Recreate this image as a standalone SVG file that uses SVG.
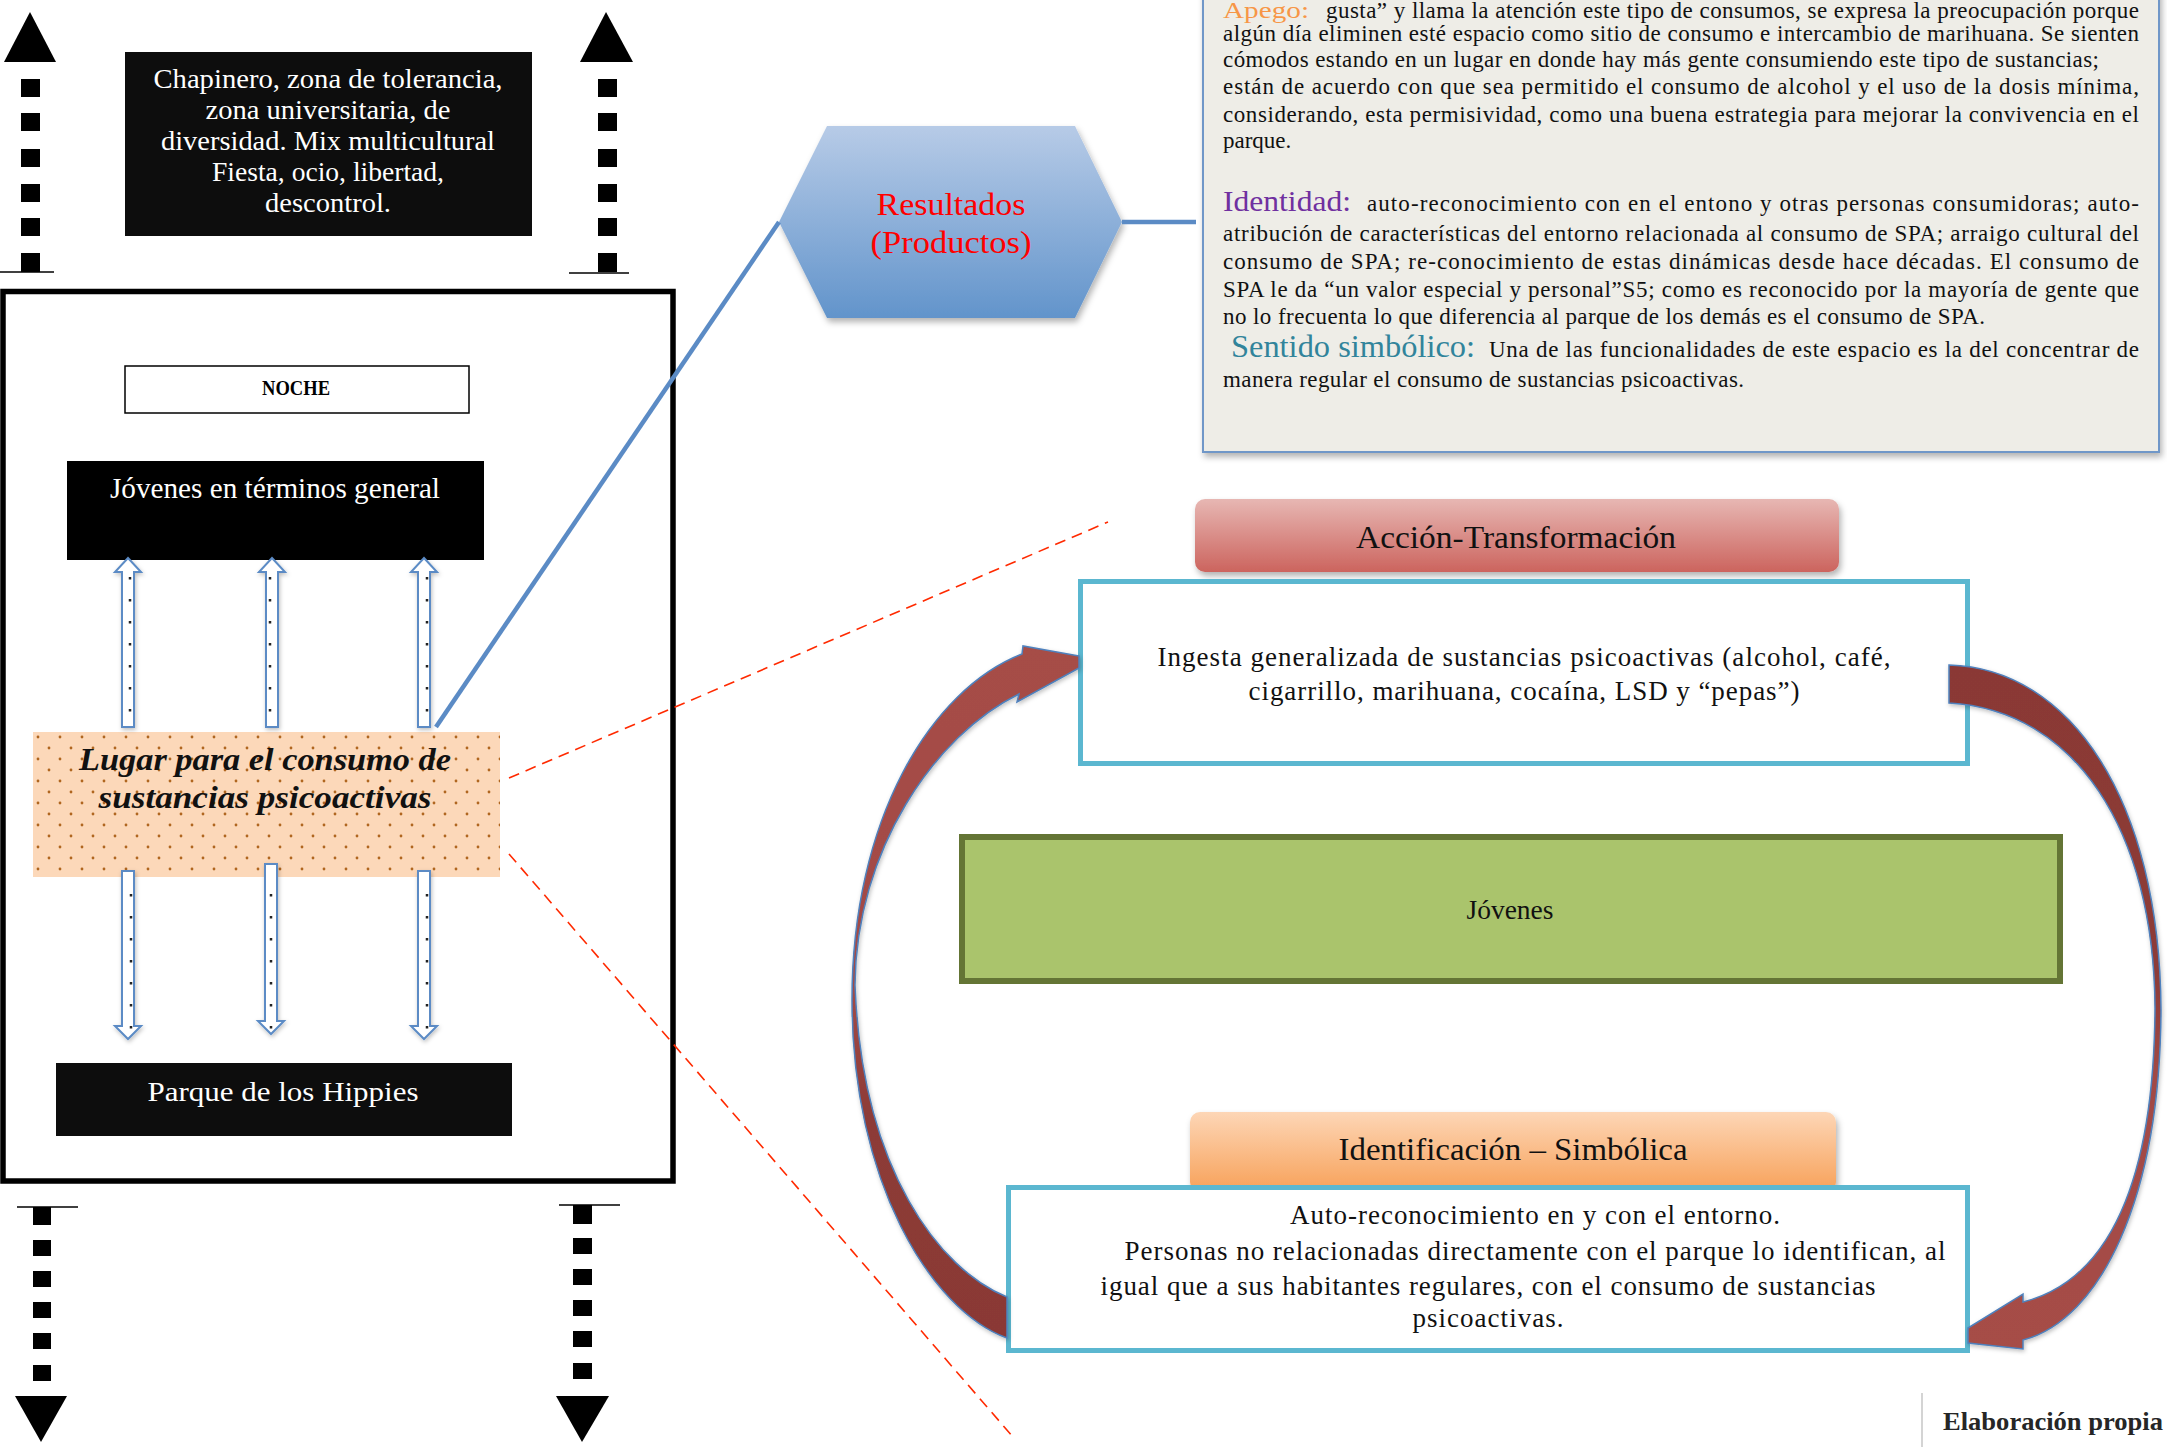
<svg xmlns="http://www.w3.org/2000/svg" width="2167" height="1447" viewBox="0 0 2167 1447">
<defs>
<style>
.serif{font-family:"Liberation Serif","Times New Roman",serif;}
.wt{fill:#ffffff;}
.body{font-family:"Liberation Serif","Times New Roman",serif;font-size:23px;fill:#111111;}
.blk{fill:#0d0d0d;}
.sq{fill:#000000;}
.hollow{fill:#ffffff;stroke:#5b8bc5;stroke-width:2;}
.dots{stroke:#222222;stroke-width:2.5;stroke-dasharray:2.5 19.5;fill:none;}
.cyan{fill:#ffffff;stroke:#5bb7d0;stroke-width:5;}
.red{fill:none;stroke:#ff2a00;stroke-width:1.6;stroke-dasharray:11 7;}
.blue{fill:none;stroke:#5b8bc5;stroke-width:4.5;}
.curve{stroke:#4f81bd;stroke-width:1.5;}
</style>
<linearGradient id="hexG" x1="0" y1="0" x2="0" y2="1"><stop offset="0" stop-color="#b7cbe7"/><stop offset="1" stop-color="#6294cb"/></linearGradient>
<linearGradient id="accG" x1="0" y1="0" x2="0" y2="1"><stop offset="0" stop-color="#e7b7b3"/><stop offset="1" stop-color="#cc645e"/></linearGradient>
<linearGradient id="idG" x1="0" y1="0" x2="0" y2="1"><stop offset="0" stop-color="#fdd6b6"/><stop offset="1" stop-color="#f7a159"/></linearGradient>
<linearGradient id="leftArrG" x1="0" y1="0" x2="0" y2="1"><stop offset="0" stop-color="#a64d47"/><stop offset="0.5" stop-color="#a24945"/><stop offset="0.68" stop-color="#8d3b37"/><stop offset="1" stop-color="#8a3935"/></linearGradient>
<linearGradient id="rightArrG" x1="0" y1="0" x2="0" y2="1"><stop offset="0" stop-color="#8a3935"/><stop offset="0.45" stop-color="#8d3b37"/><stop offset="0.6" stop-color="#a24945"/><stop offset="1" stop-color="#a64d47"/></linearGradient>
<pattern id="dotPat" width="22" height="22" patternUnits="userSpaceOnUse" x="33" y="732"><rect width="22" height="22" fill="#fcd8b9"/><circle cx="5" cy="5" r="1.4" fill="#b0661f"/><circle cx="16" cy="16" r="1.4" fill="#b0661f"/></pattern>
<filter id="sh" x="-10%" y="-10%" width="130%" height="140%"><feDropShadow dx="2" dy="4" stdDeviation="3" flood-color="#000000" flood-opacity="0.3"/></filter>
<filter id="shs" x="-20%" y="-10%" width="140%" height="130%"><feDropShadow dx="1" dy="2" stdDeviation="2" flood-color="#000000" flood-opacity="0.25"/></filter>
</defs>
<rect width="2167" height="1447" fill="#ffffff"/>

<!-- top-right text box -->
<g id="texto-caracteristicas">
<rect x="1203" y="-10" width="956" height="462" fill="#eeede7" stroke="#7097c8" stroke-width="2" filter="url(#sh)"/>
<text class="serif" x="1223" y="18" font-size="24" fill="#f79646" textLength="86" lengthAdjust="spacingAndGlyphs">Apego:</text>
<text class="body" x="1326" y="18" textLength="813" lengthAdjust="spacing">gusta” y llama la atención este tipo de consumos, se expresa la preocupación porque</text>
<text class="body" x="1223" y="41" textLength="916" lengthAdjust="spacing">algún día eliminen esté espacio como sitio de consumo e intercambio de marihuana. Se sienten</text>
<text class="body" x="1223" y="67" textLength="876" lengthAdjust="spacing">cómodos estando en un lugar en donde hay más gente consumiendo este tipo de sustancias;</text>
<text class="body" x="1223" y="94" textLength="916" lengthAdjust="spacing">están de acuerdo con que sea permitido el consumo de alcohol y el uso de la dosis mínima,</text>
<text class="body" x="1223" y="122" textLength="916" lengthAdjust="spacing">considerando, esta permisividad, como una buena estrategia para mejorar la convivencia en el</text>
<text class="body" x="1223" y="148">parque.</text>
<text class="serif" x="1223" y="211" font-size="30" fill="#7030a0" textLength="128" lengthAdjust="spacingAndGlyphs">Identidad:</text>
<text class="body" x="1367" y="211" textLength="772" lengthAdjust="spacing">auto-reconocimiento con en el entono y otras personas consumidoras;  auto-</text>
<text class="body" x="1223" y="241" textLength="916" lengthAdjust="spacing">atribución de características del entorno relacionada al consumo de SPA; arraigo  cultural del</text>
<text class="body" x="1223" y="269" textLength="916" lengthAdjust="spacing">consumo de SPA;  re-conocimiento de estas dinámicas desde hace décadas. El consumo de</text>
<text class="body" x="1223" y="297" textLength="916" lengthAdjust="spacing">SPA le da “un valor especial y personal”S5; como es reconocido por la mayoría de gente que</text>
<text class="body" x="1223" y="324" textLength="762" lengthAdjust="spacing">no lo frecuenta lo que diferencia al parque de los demás es el consumo de SPA.</text>
<text class="serif" x="1231" y="357" font-size="31" fill="#31849b" textLength="244" lengthAdjust="spacingAndGlyphs">Sentido simbólico:</text>
<text class="body" x="1489" y="357" textLength="650" lengthAdjust="spacing">Una de las funcionalidades de este espacio es la del concentrar de</text>
<text class="body" x="1223" y="387" textLength="521" lengthAdjust="spacing">manera regular el consumo de sustancias psicoactivas.</text>
</g>

<!-- left frame -->
<g id="marco">
<rect x="3" y="291.5" width="670" height="889.5" fill="#ffffff" stroke="#000000" stroke-width="5.5"/>
</g>

<g id="chapinero">
<rect x="125" y="52" width="407" height="184" class="blk"/>
<g class="serif wt" font-size="27" text-anchor="middle">
<text x="328" y="88" textLength="349" lengthAdjust="spacingAndGlyphs">Chapinero,  zona de tolerancia,</text>
<text x="328" y="119" textLength="245" lengthAdjust="spacingAndGlyphs">zona universitaria, de</text>
<text x="328" y="150" textLength="334" lengthAdjust="spacingAndGlyphs">diversidad.  Mix multicultural</text>
<text x="328" y="181" textLength="232" lengthAdjust="spacingAndGlyphs">Fiesta, ocio, libertad,</text>
<text x="328" y="212" textLength="126" lengthAdjust="spacingAndGlyphs">descontrol.</text>
</g>
</g>

<g id="noche">
<rect x="125" y="366" width="344" height="47" fill="#ffffff" stroke="#000000" stroke-width="1.5"/>
<text class="serif" x="296" y="395" font-size="20" font-weight="bold" text-anchor="middle" textLength="68" lengthAdjust="spacingAndGlyphs">NOCHE</text>
</g>

<g id="jovenes-general">
<rect x="67" y="461" width="417" height="99" fill="#000000"/>
<text class="serif wt" x="275" y="498" font-size="29" text-anchor="middle" textLength="330" lengthAdjust="spacingAndGlyphs">Jóvenes en términos general</text>
</g>

<g id="lugar">
<rect x="33" y="732" width="467" height="145" fill="url(#dotPat)"/>
<g class="serif" font-size="31" font-weight="bold" font-style="italic" text-anchor="middle" fill="#111111">
<text x="265" y="770" textLength="372" lengthAdjust="spacingAndGlyphs">Lugar para el consumo de</text>
<text x="265" y="808" textLength="333" lengthAdjust="spacingAndGlyphs">sustancias psicoactivas</text>
</g>
</g>

<g id="parque">
<rect x="56" y="1063" width="456" height="73" class="blk"/>
<text class="serif wt" x="283" y="1101" font-size="28" text-anchor="middle" textLength="271" lengthAdjust="spacingAndGlyphs">Parque de los Hippies</text>
</g>

<g id="resultados">
<polygon points="827,126 1075,126 1122,222 1075,318 827,318 779,222" fill="url(#hexG)" filter="url(#sh)"/>
<g class="serif" font-size="32" fill="#ff0000" text-anchor="middle">
<text x="951" y="215" textLength="149" lengthAdjust="spacingAndGlyphs">Resultados</text>
<text x="951" y="253" textLength="161" lengthAdjust="spacingAndGlyphs">(Productos)</text>
</g>
</g>

<g id="accion-header">
<rect x="1195" y="499" width="644" height="73" rx="10" fill="url(#accG)" filter="url(#sh)"/>
<text class="serif" x="1516" y="548" font-size="32" text-anchor="middle" fill="#111111" textLength="320" lengthAdjust="spacingAndGlyphs">Acción-Transformación</text>
</g>

<g id="ingesta">
<rect x="1080.5" y="581.5" width="887" height="182" class="cyan"/>
<g class="serif" font-size="27" text-anchor="middle" fill="#111111">
<text x="1524" y="666" textLength="733" lengthAdjust="spacing">Ingesta generalizada de sustancias psicoactivas  (alcohol, café,</text>
<text x="1524" y="700" textLength="551" lengthAdjust="spacing">cigarrillo, marihuana, cocaína, LSD y “pepas”)</text>
</g>
</g>

<g id="jovenes">
<rect x="962" y="837" width="1098" height="144" fill="#aac46c" stroke="#647535" stroke-width="6"/>
<text class="serif" x="1510" y="919" font-size="27" text-anchor="middle" fill="#111111" textLength="87" lengthAdjust="spacingAndGlyphs">Jóvenes</text>
</g>

<g id="identificacion-header">
<rect x="1190" y="1112" width="646" height="80" rx="10" fill="url(#idG)" filter="url(#sh)"/>
<text class="serif" x="1513" y="1160" font-size="31" text-anchor="middle" fill="#111111" textLength="349" lengthAdjust="spacingAndGlyphs">Identificación – Simbólica</text>
</g>

<g id="identificacion">
<rect x="1008.5" y="1187.5" width="959" height="163" class="cyan"/>
<g class="serif" font-size="27" text-anchor="middle" fill="#111111">
<text x="1535" y="1224" textLength="490" lengthAdjust="spacing">Auto-reconocimiento en y con el entorno.</text>
<text x="1535" y="1260" textLength="821" lengthAdjust="spacing">Personas no relacionadas directamente con el parque lo identifican, al</text>
<text x="1488" y="1295" textLength="775" lengthAdjust="spacing">igual que a sus habitantes regulares, con el consumo de sustancias</text>
<text x="1488" y="1327" textLength="151" lengthAdjust="spacing">psicoactivas.</text>
</g>
</g>

<g id="elaboracion">
<line x1="1922" y1="1393" x2="1922" y2="1447" stroke="#d4d4d4" stroke-width="2"/>
<text class="serif" x="1943" y="1430" font-size="26" font-weight="bold" fill="#262626" textLength="220" lengthAdjust="spacingAndGlyphs">Elaboración propia</text>
</g>

<!-- connectors -->
<g id="conectores">
<g id="flecha-sup-izq">
<polygon points="4,62 56,62 30,12" class="sq"/>
<rect x="21" y="79" width="19" height="18" class="sq"/>
<rect x="21" y="113" width="19" height="18" class="sq"/>
<rect x="21" y="149" width="19" height="18" class="sq"/>
<rect x="21" y="184" width="19" height="18" class="sq"/>
<rect x="21" y="218" width="19" height="18" class="sq"/>
<rect x="21" y="253" width="19" height="19" class="sq"/>
<line x1="0" y1="272" x2="54" y2="272" stroke="#000000" stroke-width="1.5"/>
</g>
<g id="flecha-sup-der">
<polygon points="580,62 633,62 606,12" class="sq"/>
<rect x="598" y="79" width="19" height="18" class="sq"/>
<rect x="598" y="113" width="19" height="18" class="sq"/>
<rect x="598" y="149" width="19" height="18" class="sq"/>
<rect x="598" y="184" width="19" height="18" class="sq"/>
<rect x="598" y="218" width="19" height="18" class="sq"/>
<rect x="598" y="253" width="19" height="19" class="sq"/>
<line x1="569" y1="273" x2="629" y2="273" stroke="#000000" stroke-width="1.5"/>
</g>
<g id="flecha-inf-izq">
<line x1="17" y1="1207" x2="78" y2="1207" stroke="#000000" stroke-width="1.5"/>
<rect x="33" y="1207" width="18" height="18" class="sq"/>
<rect x="33" y="1240" width="18" height="16" class="sq"/>
<rect x="33" y="1271" width="18" height="16" class="sq"/>
<rect x="33" y="1302" width="18" height="16" class="sq"/>
<rect x="33" y="1333" width="18" height="16" class="sq"/>
<rect x="33" y="1365" width="18" height="16" class="sq"/>
<polygon points="15,1396 67,1396 41,1442" class="sq"/>
</g>
<g id="flecha-inf-der">
<line x1="559" y1="1205" x2="620" y2="1205" stroke="#000000" stroke-width="1.5"/>
<rect x="573" y="1205" width="19" height="19" class="sq"/>
<rect x="573" y="1238" width="19" height="16" class="sq"/>
<rect x="573" y="1269" width="19" height="16" class="sq"/>
<rect x="573" y="1300" width="19" height="16" class="sq"/>
<rect x="573" y="1331" width="19" height="16" class="sq"/>
<rect x="573" y="1363" width="19" height="16" class="sq"/>
<polygon points="556,1396 609,1396 582,1442" class="sq"/>
</g>

<g id="flechas-arriba" filter="url(#shs)">
<path class="hollow" d="M128,558 L141,572 L134,572 L134,727 L122,727 L122,572 L115,572 Z"/>
<path class="hollow" d="M272,558 L285,572 L278,572 L278,727 L266,727 L266,572 L259,572 Z"/>
<path class="hollow" d="M424,558 L437,572 L430,572 L430,727 L418,727 L418,572 L411,572 Z"/>
</g>
<line class="dots" x1="130" y1="577" x2="130" y2="715"/>
<line class="dots" x1="270" y1="577" x2="270" y2="715"/>
<line class="dots" x1="427" y1="577" x2="427" y2="715"/>

<g id="flechas-abajo" filter="url(#shs)">
<path class="hollow" d="M122,871 L134,871 L134,1026 L141,1026 L128,1039 L115,1026 L122,1026 Z"/>
<path class="hollow" d="M265,864 L277,864 L277,1021 L284,1021 L271,1034 L258,1021 L265,1021 Z"/>
<path class="hollow" d="M418,871 L430,871 L430,1026 L437,1026 L424,1039 L411,1026 L418,1026 Z"/>
</g>
<line class="dots" x1="131" y1="894" x2="131" y2="1030"/>
<line class="dots" x1="271" y1="894" x2="271" y2="1030"/>
<line class="dots" x1="427" y1="894" x2="427" y2="1030"/>

<line class="blue" x1="436" y1="727" x2="779" y2="222"/>
<line class="blue" x1="1122" y1="222" x2="1196" y2="222" stroke-width="5"/>

<line class="red" x1="509" y1="778" x2="1108" y2="522"/>
<line class="red" x1="509" y1="854" x2="1013" y2="1437"/>

<path id="flecha-curva-izq" class="curve" fill="url(#leftArrG)" filter="url(#shs)" d="M1079,656 L1023,646 L1022,654 C930,690 852,820 852,1000 C852,1180 930,1310 1007,1338 L1007,1297 C940,1270 862,1170 855,985 C856,850 935,735 1019,694 L1017,702 L1079,668 Z"/>
<path id="flecha-curva-der" class="curve" fill="url(#rightArrG)" filter="url(#shs)" d="M1949,665 C2070,668 2160,800 2161,1010 C2160,1200 2100,1320 2023,1340 L2023,1349 L1968,1343 L1968,1328 L2023,1294 L2023,1302 C2110,1280 2154,1180 2155,1008 C2154,830 2075,710 1949,703 Z"/>
</g>
</svg>
